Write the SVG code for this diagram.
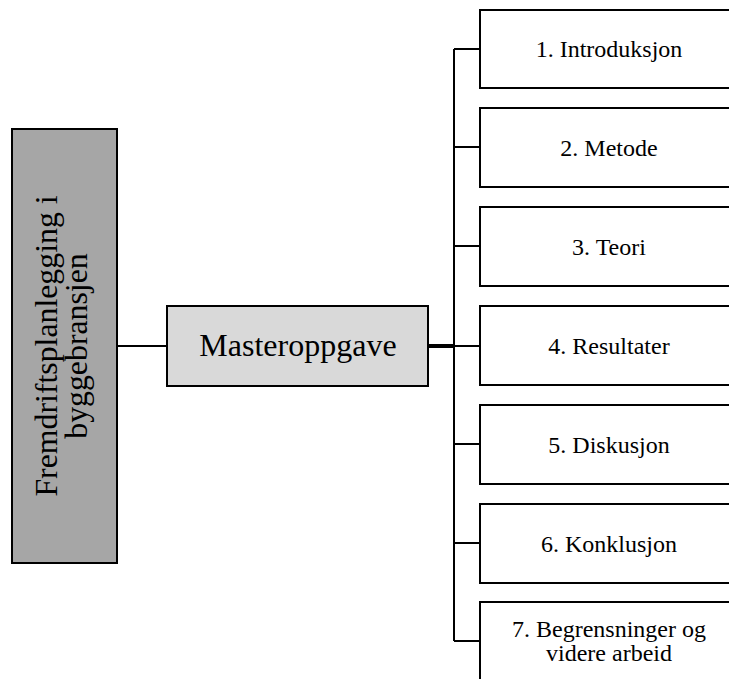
<svg xmlns="http://www.w3.org/2000/svg" width="729" height="679" viewBox="0 0 729 679">
<style>
.box{stroke:#000;stroke-width:2}
.sec{fill:#fff}
.t{font-family:"Liberation Serif","Times New Roman",serif;fill:#000;text-anchor:middle}
.s{font-size:24px}
.c{fill:none;stroke:#000;stroke-width:2}
</style>
<rect width="729" height="679" fill="#fff"/>
<g id="connectors">
<line class="c" x1="117" y1="346" x2="167" y2="346"/>
<line class="c" x1="428" y1="346" x2="454" y2="346" style="stroke-width:4"/>
<line class="c" x1="454" y1="49" x2="454" y2="641"/>
<polyline class="c" points="454,49 480,49"/>
<polyline class="c" points="454,147 480,147"/>
<polyline class="c" points="454,246 480,246"/>
<polyline class="c" points="454,346 480,346"/>
<polyline class="c" points="454,444 480,444"/>
<polyline class="c" points="454,543 480,543"/>
<polyline class="c" points="454,641 480,641"/>
</g>
<g id="root">
<rect class="box" x="12" y="129" width="105" height="434" fill="#a6a6a6"/>
<text class="t" transform="translate(0,346) rotate(-90)" font-size="31.8"><tspan x="0" y="57">Fremdriftsplanlegging i</tspan><tspan x="0" y="87">byggebransjen</tspan></text>
</g>
<g id="master">
<rect class="box" x="167" y="306" width="261" height="80" fill="#d9d9d9"/>
<text class="t" x="298" y="356" font-size="32">Masteroppgave</text>
</g>
<g id="s1"><rect class="box sec" x="480" y="10" width="260" height="78"/><text class="t s" x="609" y="57">1. Introduksjon</text></g>
<g id="s2"><rect class="box sec" x="480" y="108" width="260" height="79"/><text class="t s" x="609" y="156">2. Metode</text></g>
<g id="s3"><rect class="box sec" x="480" y="207" width="260" height="79"/><text class="t s" x="609" y="255">3. Teori</text></g>
<g id="s4"><rect class="box sec" x="480" y="306" width="260" height="79"/><text class="t s" x="609" y="354">4. Resultater</text></g>
<g id="s5"><rect class="box sec" x="480" y="405" width="260" height="79"/><text class="t s" x="609" y="453">5. Diskusjon</text></g>
<g id="s6"><rect class="box sec" x="480" y="504" width="260" height="79"/><text class="t s" x="609" y="552">6. Konklusjon</text></g>
<g id="s7"><rect class="box sec" x="480" y="602" width="260" height="90"/><text class="t s"><tspan x="609" y="637">7. Begrensninger og</tspan><tspan x="609" y="661">videre arbeid</tspan></text></g>
</svg>
